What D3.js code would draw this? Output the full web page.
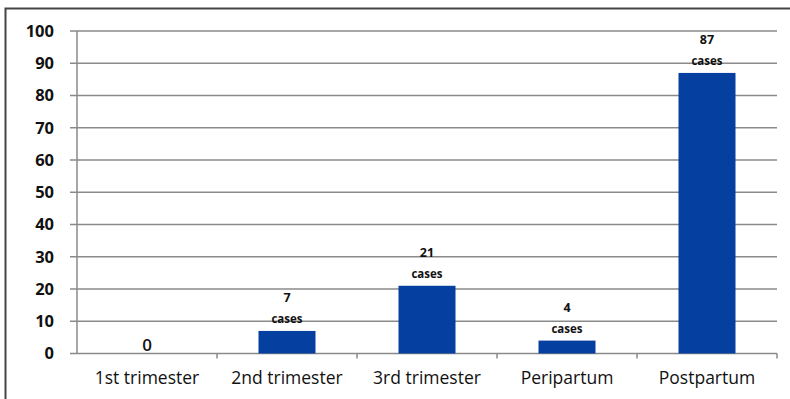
<!DOCTYPE html>
<html>
<head>
<meta charset="utf-8">
<script src="https://cdn.jsdelivr.net/npm/d3@7"></script>
<style>
  body { margin: 0; background: #fff; }
  svg text { font-family: "Open Sans", sans-serif; }
</style>
</head>
<body>
<div id="chart"></div>
<script>
var categories = ["1st trimester", "2nd trimester", "3rd trimester", "Peripartum", "Postpartum"];
var cases = [0, 7, 21, 4, 87];
var yTicks = [0, 10, 20, 30, 40, 50, 60, 70, 80, 90, 100];

var svgWidth = 790, svgHeight = 399;
var svg = d3.select("#chart").append("svg").attr("width", svgWidth).attr("height", svgHeight);

// outer frame (top and left edges visible)
svg.append("path")
    .attr("d", "M5.5," + svgHeight + "V8.5H" + svgWidth)
    .attr("fill", "none").attr("stroke", "#444").attr("stroke-width", 2);

var plotLeft = 77, plotRight = 777, plotTop = 31, plotBottom = 353.5;

var x = d3.scaleBand().domain(categories).range([plotLeft, plotRight]).paddingInner(0).paddingOuter(0);
var y = d3.scaleLinear().domain([0, 100]).range([plotBottom, plotTop]);

// gridlines
svg.append("g").selectAll("line").data(yTicks).enter().append("line")
    .attr("x1", plotLeft - 7).attr("x2", plotRight)
    .attr("y1", function (d) { return y(d); }).attr("y2", function (d) { return y(d); })
    .attr("stroke", "#8a8a8a").attr("stroke-width", 1.5);

// y axis line
svg.append("line").attr("x1", plotLeft).attr("x2", plotLeft).attr("y1", plotTop).attr("y2", plotBottom)
    .attr("stroke", "#8a8a8a").attr("stroke-width", 1.5);

// y tick labels
svg.append("g").selectAll("text").data(yTicks).enter().append("text")
    .attr("x", 54).attr("y", function (d) { return y(d); })
    .attr("dy", "0.36em").attr("text-anchor", "end")
    .attr("font-size", 16.5).attr("font-weight", 700).attr("fill", "#111")
    .text(function (d) { return d; });

// category boundary ticks
var bounds = categories.map(function (c) { return x(c); }).concat([plotRight]);
svg.append("g").selectAll("line").data(bounds.slice(1)).enter().append("line")
    .attr("x1", function (d) { return d; }).attr("x2", function (d) { return d; })
    .attr("y1", plotBottom).attr("y2", plotBottom + 5)
    .attr("stroke", "#8a8a8a").attr("stroke-width", 1.5);

// bars
var barW = 57;
var data = categories.map(function (c, i) { return { cat: c, val: cases[i] }; });
svg.append("g").selectAll("rect").data(data.filter(function (d) { return d.val > 0; })).enter().append("rect")
    .attr("x", function (d) { return x(d.cat) + x.bandwidth() / 2 - barW / 2; })
    .attr("y", function (d) { return y(d.val); })
    .attr("width", barW)
    .attr("height", function (d) { return plotBottom - y(d.val); })
    .attr("fill", "#053f9f");

// value labels
var lab = svg.append("g").selectAll("g").data(data).enter().append("g");
lab.filter(function (d) { return d.val > 0; }).append("text")
    .attr("x", function (d) { return x(d.cat) + x.bandwidth() / 2; })
    .attr("y", function (d) { return y(d.val) - 33; })
    .attr("dy", "0.36em").attr("text-anchor", "middle")
    .attr("font-size", 12.5).attr("font-weight", 700).attr("fill", "#111")
    .text(function (d) { return d.val; });
lab.filter(function (d) { return d.val > 0; }).append("text")
    .attr("x", function (d) { return x(d.cat) + x.bandwidth() / 2; })
    .attr("y", function (d) { return y(d.val) - 12; })
    .attr("dy", "0.36em").attr("text-anchor", "middle")
    .attr("font-size", 11.5).attr("font-weight", 700).attr("fill", "#111")
    .text("cases");
lab.filter(function (d) { return d.val === 0; }).append("text")
    .attr("x", function (d) { return x(d.cat) + x.bandwidth() / 2; })
    .attr("y", plotBottom - 9)
    .attr("dy", "0.36em").attr("text-anchor", "middle")
    .attr("font-size", 17).attr("font-weight", 600).attr("fill", "#111")
    .text("0");

// category labels
svg.append("g").selectAll("text").data(categories).enter().append("text")
    .attr("x", function (d) { return x(d) + x.bandwidth() / 2; })
    .attr("y", 378).attr("dy", "0.36em").attr("text-anchor", "middle")
    .attr("font-size", 17.5).attr("font-weight", 500).attr("fill", "#111")
    .text(function (d) { return d; });
</script>
</body>
</html>
